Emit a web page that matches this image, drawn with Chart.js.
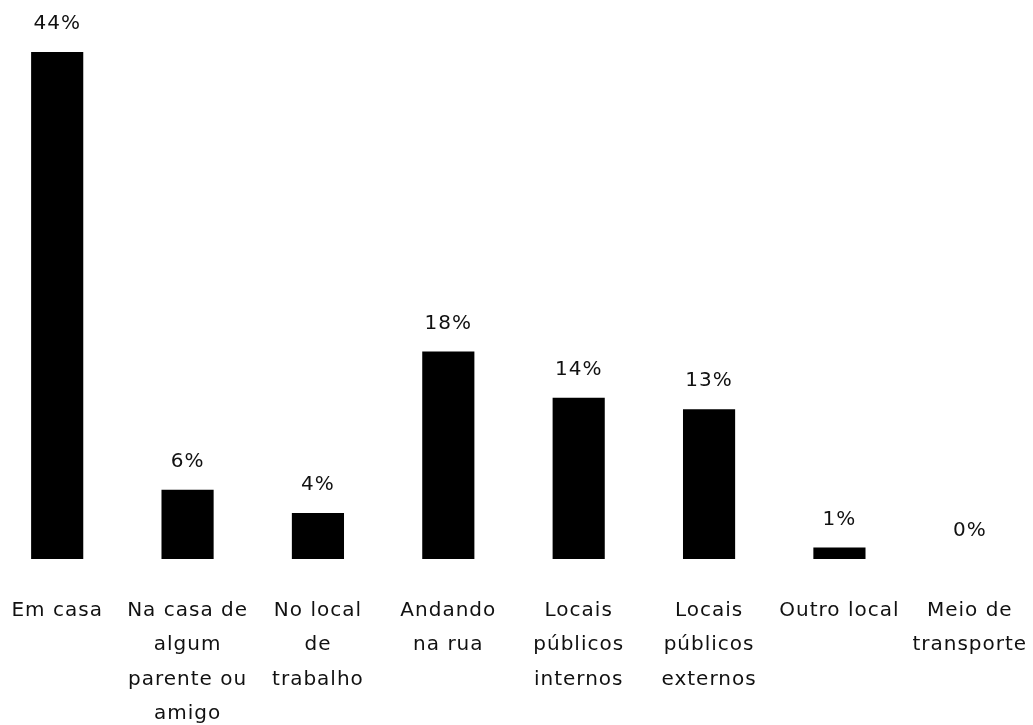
<!DOCTYPE html>
<html>
<head>
<meta charset="utf-8">
<script src="https://cdn.jsdelivr.net/npm/chart.js@4"></script>
<style>
  html, body { margin: 0; padding: 0; background: #fff; overflow: hidden; }
  #chart { position: absolute; left: -8px; top: 0; }
</style>
</head>
<body>
<canvas id="chart" width="1044" height="725"></canvas>
<script>
// categories (multi-line labels) and percentages
const categories = [
    "Em casa",
    ["Na casa de", "algum", "parente ou", "amigo"],
    ["No local", "de", "trabalho"],
    ["Andando", "na rua"],
    ["Locais", "públicos", "internos"],
    ["Locais", "públicos", "externos"],
    "Outro local",
    ["Meio de", "transporte"]
];
const percentages = [44, 6, 4, 18, 14, 13, 1, 0];

const textFont = { family: "'DejaVu Sans', sans-serif", size: 20 };

// wider letter spacing for all canvas text
const spacingPlugin = {
    id: 'spacing',
    beforeUpdate(chart) { chart.ctx.letterSpacing = '1px'; },
    beforeDraw(chart) { chart.ctx.letterSpacing = '1px'; }
};

// value labels above each bar
const valueLabels = {
    id: 'valueLabels',
    afterDatasetsDraw(chart) {
        const ctx = chart.ctx;
        const meta = chart.getDatasetMeta(0);
        ctx.save();
        ctx.letterSpacing = '1px';
        ctx.font = textFont.size + 'px ' + textFont.family;
        ctx.fillStyle = '#111';
        ctx.textAlign = 'center';
        ctx.textBaseline = 'middle';
        meta.data.forEach(function(bar, i) {
            ctx.fillText(percentages[i] + '%', bar.x, bar.y - 28);
        });
        ctx.restore();
    }
};

const ctx = document.getElementById("chart").getContext("2d");
new Chart(ctx, {
    type: 'bar',
    data: {
        labels: categories,
        datasets: [{
            data: percentages,
            backgroundColor: '#000',
            borderWidth: 0,
            barPercentage: 0.4,
            categoryPercentage: 1
        }]
    },
    options: {
        responsive: false,
        animation: false,
        layout: { padding: { top: 52, left: 0, right: 1, bottom: 0 } },
        plugins: {
            legend: { display: false },
            tooltip: { enabled: false }
        },
        scales: {
            x: {
                grid: { display: false, drawTicks: false },
                border: { display: false },
                ticks: {
                    color: '#111',
                    font: Object.assign({ lineHeight: 1.73 }, textFont),
                    padding: 34,
                    maxRotation: 0,
                    autoSkip: false
                },
                // keep the plot edge-to-edge and the label band fixed
                afterFit(scale) {
                    scale.paddingLeft = 0;
                    scale.paddingRight = 0;
                    scale.height = 166;
                }
            },
            y: {
                display: false,
                min: 0,
                max: 44
            }
        }
    },
    plugins: [spacingPlugin, valueLabels]
});
</script>
</body>
</html>
